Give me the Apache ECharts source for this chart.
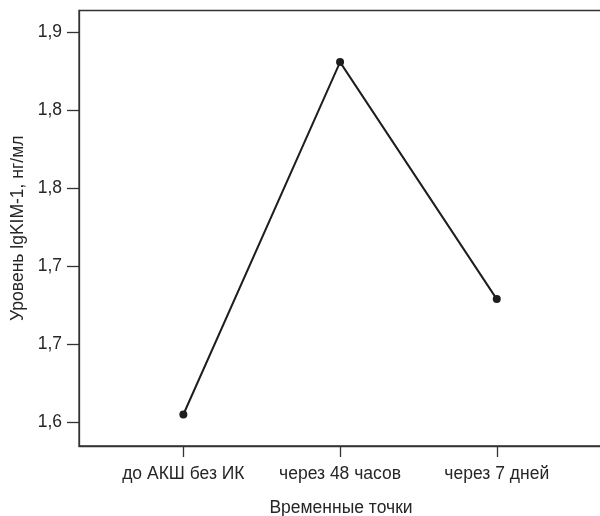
<!DOCTYPE html>
<html>
<head>
<meta charset="utf-8">
<script src="https://cdn.jsdelivr.net/npm/echarts@6/dist/echarts.min.js"></script>
<style>html,body{margin:0;padding:0;background:#fff}#c{width:600px;height:516px}</style>
</head>
<body>
<div id="c"></div>
<script>
const categories = ['до АКШ без ИК', 'через 48 часов', 'через 7 дней'];
const values = [1.605, 1.831, 1.679];
const yTickValues = [1.60, 1.65, 1.70, 1.75, 1.80, 1.85];
const yTickLabels = ['1,6', '1,7', '1,7', '1,8', '1,8', '1,9'];
const xTitle = 'Временные точки';
const yTitle = 'Уровень lgKIM-1, нг/мл';

const FONT = 'Liberation Sans, Arial, sans-serif';
const TXT = '#262626';
const AX = '#333333';

const chart = echarts.init(document.getElementById('c'), null, {renderer: 'canvas'});
const xIdx = categories.map((c, i) => i);
chart.setOption({
  animation: false,
  backgroundColor: '#fff',
  grid: {left: 79, right: -3, top: 10.5, bottom: 70, show: true, borderColor: AX, borderWidth: 1.3,
    containLabel: false, outerBoundsMode: 'none'},
  xAxis: {
    type: 'value',
    min: -0.666, max: 2.678,
    name: xTitle, nameLocation: 'middle', nameGap: 53,
    nameTextStyle: {fontFamily: FONT, fontSize: 17.5, color: TXT},
    axisLine: {show: true, onZero: false, lineStyle: {color: AX, width: 1.3}},
    axisTick: {show: true, length: 11, inside: false, customValues: xIdx, lineStyle: {color: AX, width: 1.3}},
    axisLabel: {customValues: xIdx, margin: 19, fontFamily: FONT, fontSize: 17.5, color: TXT,
      formatter: v => { const i = Math.round(v); return categories[i] !== undefined ? categories[i] : ''; }},
    splitLine: {show: false}
  },
  yAxis: {
    type: 'value',
    min: 1.5848, max: 1.8641,
    name: yTitle, nameLocation: 'middle', nameGap: 52, nameRotate: 90,
    nameTextStyle: {fontFamily: FONT, fontSize: 17.5, color: TXT},
    axisLine: {show: true, onZero: false, lineStyle: {color: AX, width: 1.3}},
    axisTick: {show: true, length: 12, inside: false, customValues: yTickValues, lineStyle: {color: AX, width: 1.3}},
    axisLabel: {customValues: yTickValues, margin: 17, fontFamily: FONT, fontSize: 17.5, color: TXT,
      formatter: v => { let best = 0; yTickValues.forEach((t, i) => { if (Math.abs(t - v) < Math.abs(yTickValues[best] - v)) best = i; }); return yTickLabels[best]; }},
    splitLine: {show: false}
  },
  series: [{
    type: 'line',
    data: values.map((v, i) => [i, v]),
    symbol: 'circle', symbolSize: 8,
    lineStyle: {color: '#1e1e1e', width: 2},
    itemStyle: {color: '#1e1e1e'}
  }]
});
</script>
</body>
</html>
